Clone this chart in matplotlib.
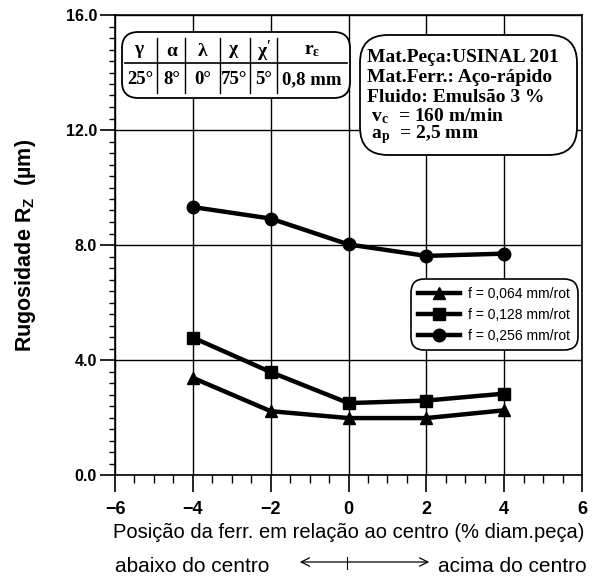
import matplotlib
matplotlib.use("Agg")
import matplotlib.pyplot as plt
from matplotlib.ticker import MultipleLocator, FormatStrFormatter
from matplotlib.patches import FancyBboxPatch, FancyArrowPatch
from matplotlib.lines import Line2D

# Tool position (% of workpiece diameter) and roughness Rz (µm)
posicao = [-4, -2, 0, 2, 4]
rz_f064 = [3.38, 2.22, 1.98, 1.98, 2.25]
rz_f128 = [4.78, 3.58, 2.50, 2.59, 2.83]
rz_f256 = [9.32, 8.92, 8.02, 7.62, 7.70]
rotulos = ["f = 0,064 mm/rot", "f = 0,128 mm/rot", "f = 0,256 mm/rot"]
marcadores = ["^", "s", "o"]

# Tool geometry table
geo_simbolos = [r"$\gamma$", r"$\alpha$", r"$\lambda$", r"$\chi$", r"$\chi'$", r"r$_{\varepsilon}$"]
geo_valores = ["25°", "8°", "0°", "75°", "5°", "0,8 mm"]

condicoes = ["Mat.Peça:USINAL 201",
             "Mat.Ferr.: Aço-rápido",
             "Fluido: Emulsão 3 %",
             r" v$_{\mathregular{c}}$  = 160 m/min",
             r" a$_{\mathregular{p}}$  = 2,5 mm"]

plt.rcParams["mathtext.fontset"] = "custom"
plt.rcParams["mathtext.rm"] = "Liberation Serif:bold"
plt.rcParams["mathtext.it"] = "Liberation Serif:bold"
plt.rcParams["mathtext.bf"] = "Liberation Serif:bold"
plt.rcParams["mathtext.sf"] = "Liberation Sans:bold"

SANS = ["Liberation Sans", "DejaVu Sans"]
SERIF = ["Liberation Serif", "DejaVu Serif"]

fig = plt.figure(figsize=(5.95, 5.77), dpi=100)
ax = fig.add_axes([115 / 595, 1 - 475 / 577, 467 / 595, 460 / 577])

for y, m, lab in zip([rz_f064, rz_f128, rz_f256], marcadores, rotulos):
    ax.plot(posicao, y, color="black", lw=3.2, marker=m, ms=9,
            markeredgecolor="black", markerfacecolor="black", label=lab, zorder=3)

ax.set_xlim(-6, 6)
ax.set_ylim(0, 16)
ax.xaxis.set_major_locator(MultipleLocator(2))
ax.xaxis.set_minor_locator(MultipleLocator(0.5))
ax.yaxis.set_major_locator(MultipleLocator(4))
ax.yaxis.set_minor_locator(MultipleLocator(0.4))
ax.yaxis.set_major_formatter(FormatStrFormatter("%.1f"))
ax.grid(True, which="major", color="black", lw=1.0)
for s in ax.spines.values():
    s.set_linewidth(1.2)

ax.tick_params(axis="y", which="major", direction="out", length=11, width=1.2, pad=2)
ax.tick_params(axis="y", which="minor", direction="out", length=4, width=1.0)
ax.tick_params(axis="x", which="major", direction="out", length=12, width=1.2, pad=7)
ax.tick_params(axis="x", which="minor", direction="out", length=6, width=1.0)
for t in ax.get_xticklabels():
    t.set_fontfamily(SANS); t.set_fontweight("bold"); t.set_fontsize(13)
for t in ax.get_yticklabels():
    t.set_fontfamily(SANS); t.set_fontweight("bold"); t.set_fontsize(11.5)

ax.set_xlabel("Posição da ferr. em relação ao centro (% diam.peça)",
              family=SANS, fontsize=14.5, va="center")
ax.xaxis.set_label_coords(0.5, (475 - 532) / 460)
ax.set_ylabel(r"Rugosidade R$_{\mathsf{Z}}$  (µm)", family=SANS,
              fontsize=15.5, fontweight="bold", va="center")
ax.yaxis.set_label_coords((26 - 115) / 467, 0.5)


def axfrac(px, py):
    return ((px - 115) / 467, (475 - py) / 460)


# Geometry table box
x0, y0 = axfrac(122, 98)
x1, y1 = axfrac(350, 32)
ax.add_patch(FancyBboxPatch((x0, y0), x1 - x0, y1 - y0, transform=ax.transAxes,
                            boxstyle="round,pad=0,rounding_size=0.035",
                            fc="white", ec="black", lw=1.3, zorder=4))
hx0, hy = axfrac(125, 63)
hx1, _ = axfrac(347, 63)
ax.add_line(Line2D([hx0, hx1], [hy, hy], transform=ax.transAxes, color="black", lw=1.2, zorder=5))
for px in [157, 185, 220, 250, 277]:
    xs, ya = axfrac(px, 38)
    _, yb = axfrac(px, 93)
    ax.add_line(Line2D([xs, xs], [ya, yb], transform=ax.transAxes, color="black", lw=1.0, zorder=5))
for px, sym, val in zip([140, 172, 203, 234, 264, 312], geo_simbolos, geo_valores):
    xs, ys = axfrac(px, 51)
    ax.text(xs, ys, sym, transform=ax.transAxes, ha="center", va="center",
            family=SERIF, fontweight="bold", fontsize=14, zorder=6)
    xs, ys = axfrac(px, 80)
    ax.text(xs, ys, val, transform=ax.transAxes, ha="center", va="center",
            family=SERIF, fontweight="bold", fontsize=13.5, zorder=6)

# Cutting conditions box
x0, y0 = axfrac(360, 155)
x1, y1 = axfrac(577, 35)
ax.add_patch(FancyBboxPatch((x0, y0), x1 - x0, y1 - y0, transform=ax.transAxes,
                            boxstyle="round,pad=0,rounding_size=0.06",
                            fc="white", ec="black", lw=1.3, zorder=4))
for py, txt in zip([58, 78, 97, 116, 135], condicoes):
    xs, ys = axfrac(367, py)
    ax.text(xs, ys, txt, transform=ax.transAxes, ha="left", va="center",
            family=SERIF, fontweight="bold", fontsize=14, zorder=6)

leg = ax.legend(loc="upper right", bbox_to_anchor=axfrac(575, 282), borderaxespad=0,
                prop={"family": SANS, "size": 10}, handlelength=3.0, handletextpad=0.6,
                labelspacing=0.5, borderpad=0.35, fancybox=True, framealpha=1,
                edgecolor="black")
leg.get_frame().set_boxstyle("round,pad=0.2,rounding_size=1.0")
leg.get_frame().set_linewidth(1.2)
leg.set_zorder(7)

# Direction indicator below the axis
yb = 1 - 567 / 577
fig.text(115 / 595, yb, "abaixo do centro", family=SANS, fontsize=15, ha="left", va="center")
fig.text(438 / 595, yb, "acima do centro", family=SANS, fontsize=15, ha="left", va="center")
ya = 1 - 562 / 577
fig.add_artist(FancyArrowPatch((297 / 595, ya), (432 / 595, ya),
               transform=fig.transFigure, arrowstyle="<->,head_length=6,head_width=3",
               color="black", lw=0.9))
fig.add_artist(Line2D([347 / 595, 347 / 595], [ya - 0.012, ya + 0.008],
                      transform=fig.transFigure, color="black", lw=0.8))

fig.savefig("out.png", dpi=100)
